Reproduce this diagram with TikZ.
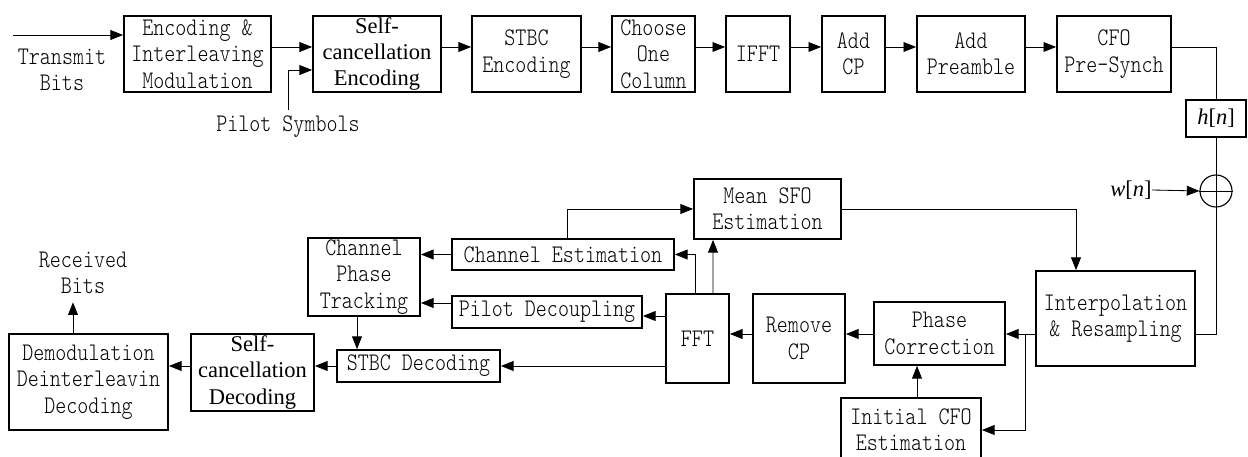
\documentclass[tikz,border=0pt]{standalone}
\usepackage{fontspec}
\usetikzlibrary{arrows.meta,calc}
\newfontfamily\boxfont[FakeStretch=0.83]{lmmonolt10-regular.otf}
\newfontfamily\scfont{Liberation Serif}
\tikzset{
  blk/.style={draw, line width=1.2pt, align=center, inner sep=0pt, font=\boxfont\fontsize{18}{18.7}\selectfont},
  scblk/.style={blk, font=\scfont\fontsize{16}{18.5}\selectfont},
  lbl/.style={align=center, inner sep=0pt, font=\boxfont\fontsize{18}{18.7}\selectfont},
  sig/.style={inner sep=0pt, font=\scfont\fontsize{16}{18}\selectfont},
  arr/.style={line width=0.6pt, -{Triangle[length=9pt,width=7pt]}},
  ln/.style={line width=0.6pt}
}
\begin{document}
\begin{tikzpicture}[x=0.025cm, y=-0.025cm]
\useasboundingbox (0,0) rectangle (1248,457);
% transmitter
\node[blk, minimum width=3.675cm, minimum height=1.9cm] (enc) at (197.5,54) {Encoding \&\\Interleaving\\Modulation};
\node[scblk, minimum width=3.2cm, minimum height=1.9cm] (scenc) at (377,54) {Self-\\cancellation\\Encoding};
\node[blk, minimum width=2.725cm, minimum height=1.9cm] (stbce) at (526.5,54) {STBC\\Encoding};
\node[blk, minimum width=2.075cm, minimum height=1.9cm] (choose) at (653.5,54) {Choose\\One\\Column};
\node[blk, minimum width=1.6cm, minimum height=1.9cm] (ifft) at (758,54) {IFFT};
\node[blk, minimum width=1.575cm, minimum height=1.9cm] (addcp) at (853.5,54) {Add\\CP};
\node[blk, minimum width=2.7cm, minimum height=1.9cm] (pre) at (971,54) {Add\\Preamble};
\node[blk, minimum width=2.85cm, minimum height=1.9cm] (cfo) at (1114,54) {CFO\\Pre-Synch};
\node[lbl] (txt) at (62,70) {Transmit\\Bits};
\node[lbl] (pil) at (288,127) {Pilot Symbols};
% channel
\node[draw, line width=0.8pt, minimum width=1.5cm, minimum height=0.925cm, sig] (hn) at (1216,118.5) {\textit{h}[\textit{n}]};
\node[draw, circle, line width=0.8pt, minimum size=0.8cm, inner sep=0pt] (sum) at (1216,191) {};
\node[sig] (wn) at (1131,190) {\textit{w}[\textit{n}]};
% receiver
\node[blk, minimum width=3.975cm, minimum height=2.375cm] (interp) at (1115.5,318.5) {Interpolation\\\& Resampling};
\node[blk, minimum width=3.675cm, minimum height=1.5cm] (msfo) at (767.5,209) {Mean SFO\\Estimation};
\node[blk, minimum width=3.275cm, minimum height=1.575cm] (phc) at (939.5,333.5) {Phase\\Correction};
\node[blk, minimum width=3.5cm, minimum height=1.6cm] (icfo) at (911,430) {Initial CFO\\Estimation};
\node[blk, minimum width=2.3cm, minimum height=2.225cm] (rmcp) at (799,338.5) {Remove\\CP};
\node[blk, minimum width=1.575cm, minimum height=2.225cm] (fft) at (697.5,338.5) {FFT};
\node[blk, minimum width=5.55cm, minimum height=0.775cm] (chest) at (563,254.5) {Channel Estimation};
\node[blk, minimum width=4.75cm, minimum height=0.8cm] (pdec) at (547,312) {Pilot Decoupling};
\node[blk, minimum width=2.8cm, minimum height=1.95cm] (cpt) at (364,277) {Channel\\Phase\\Tracking};
\node[blk, minimum width=4.075cm, minimum height=0.8cm] (stbcd) at (418.5,366) {STBC Decoding};
\node[scblk, minimum width=3.075cm, minimum height=1.925cm] (scdec) at (252.5,372.5) {Self-\\cancellation\\Decoding};
\node[blk, minimum width=3.975cm, minimum height=2.4cm] (demod) at (88.5,382) {Demodulation\\Deinterleavin\\Decoding};
\node[lbl] (rx) at (83,273) {Received\\Bits};
% connectors
\coordinate (ty) at (0,47);
\coordinate (tx) at (13,35);
\coordinate (pv) at (0,70);
\coordinate (ry) at (0,334);
\coordinate (br) at (1025,334);
\draw[arr] (tx) -- (enc.west |- tx);
\draw[arr] (enc.east |- ty) -- (scenc.west |- ty);
\draw[arr] (scenc.east |- ty) -- (stbce.west |- ty);
\draw[arr] (stbce.east |- ty) -- (choose.west |- ty);
\draw[arr] (choose.east |- ty) -- (ifft.west |- ty);
\draw[arr] (ifft.east |- ty) -- (addcp.west |- ty);
\draw[arr] (addcp.east |- ty) -- (pre.west |- ty);
\draw[arr] (pre.east |- ty) -- (cfo.west |- ty);
\draw[arr] ($(pil.north)+(0,-6)$) |- (scenc.west |- pv);
\draw[ln] (cfo.east |- ty) -| (hn.north);
\draw[ln] (hn.south) -- (sum.north);
\draw[ln] (sum.north) -- (sum.south) (sum.west) -- (sum.east);
\draw[arr] (wn.east) -- (sum.west);
\draw[ln] (sum.south) |- (interp.east |- ry);
\draw[arr] (msfo.east) -| ($(interp.north)+(-39.5,0)$);
\draw[arr] (interp.west |- ry) -- (phc.east |- ry);
\draw[arr] (br) |- (icfo.east);
\draw[arr] ($(icfo.north)+(6,0)$) -- ($(phc.south)+(-22.5,0)$);
\draw[arr] (phc.west |- ry) -- (rmcp.east |- ry);
\draw[arr] (rmcp.west |- ry) -- (fft.east |- ry);
\draw[arr] ($(fft.north)+(15.5,0)$) -- ($(msfo.south)+(-54.5,0)$);
\draw[arr] ($(fft.north)+(-2.5,0)$) |- (chest.east);
\draw[arr] ($(chest.north)+(4,0)$) |- (msfo.west);
\coordinate (pde) at ($(pdec.east)+(0,4)$);
\coordinate (pdw) at ($(pdec.west)+(0,-9)$);
\draw[arr] (fft.west |- pde) -- (pde);
\draw[arr] (fft.west |- stbcd.east) -- (stbcd.east);
\draw[arr] (chest.west) -- (cpt.east |- chest.west);
\draw[arr] (pdw) -- (cpt.east |- pdw);
\draw[arr] ($(cpt.south)+(-7,0)$) -- ($(stbcd.north)+(-61.5,0)$);
\draw[arr] (stbcd.west) -- (scdec.east |- stbcd.west);
\draw[arr] (scdec.west |- stbcd.west) -- (demod.east |- stbcd.west);
\draw[arr] ($(demod.north)+(-15.5,0)$) -- ($(rx.south)+(-10,8)$);
\end{tikzpicture}
\end{document}
